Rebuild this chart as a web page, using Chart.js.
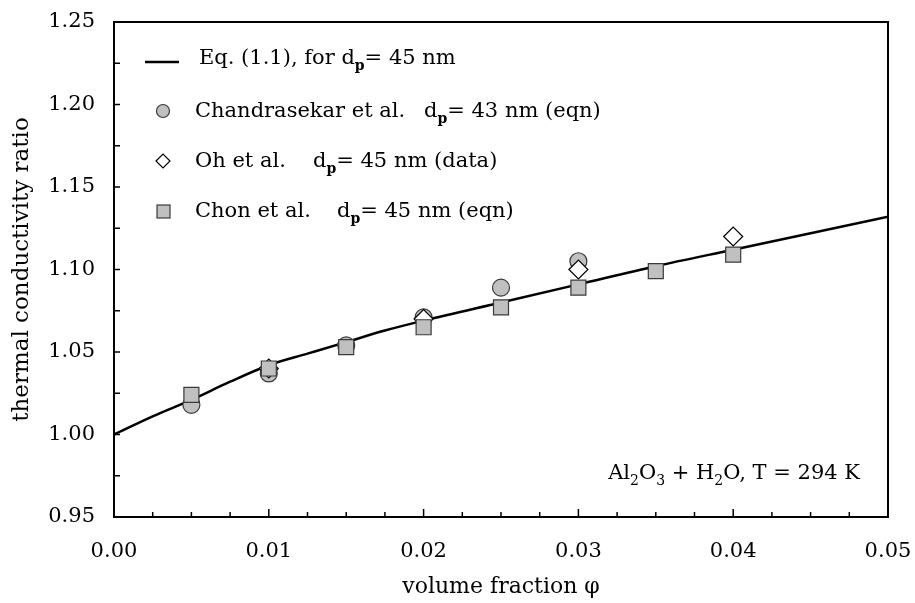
<!DOCTYPE html>
<html><head><meta charset="utf-8">
<script src="https://cdn.jsdelivr.net/npm/chart.js@4"></script>
<style>html,body{margin:0;padding:0;background:#fff}#wrap{width:915px;height:603px}</style>
</head><body><div id="wrap"><canvas id="c" width="915" height="603"></canvas></div>
<script>
// Eq. (1.1) curve, d_p = 45 nm
const eqPhi   = [0, 0.0025, 0.005, 0.0075, 0.01, 0.0125, 0.015, 0.0175, 0.02, 0.025, 0.03, 0.035, 0.04, 0.045, 0.05];
const eqRatio = [1.000, 1.011, 1.021, 1.032, 1.042, 1.049, 1.056, 1.063, 1.069, 1.080, 1.091, 1.102, 1.112, 1.122, 1.132];
// Chandrasekar et al. d_p = 43 nm (eqn)
const chandraPhi   = [0.005, 0.01, 0.015, 0.02, 0.025, 0.03];
const chandraRatio = [1.018, 1.037, 1.054, 1.071, 1.089, 1.105];
// Oh et al. d_p = 45 nm (data)
const ohPhi   = [0.01, 0.02, 0.03, 0.04];
const ohRatio = [1.040, 1.070, 1.100, 1.120];
// Chon et al. d_p = 45 nm (eqn)
const chonPhi   = [0.005, 0.01, 0.015, 0.02, 0.025, 0.03, 0.035, 0.04];
const chonRatio = [1.024, 1.040, 1.053, 1.065, 1.077, 1.089, 1.099, 1.109];
// axes
const xMajorTicks = [0, 0.01, 0.02, 0.03, 0.04, 0.05];
const xMinorTicks = [0.0025, 0.005, 0.0075, 0.0125, 0.015, 0.0175, 0.0225, 0.025, 0.0275, 0.0325, 0.035, 0.0375, 0.0425, 0.045, 0.0475];
const yMajorTicks = [0.95, 1.00, 1.05, 1.10, 1.15, 1.20, 1.25];
const yMinorTicks = [0.975, 1.025, 1.075, 1.125, 1.175, 1.225];
const xTitle = 'volume fraction φ';
const yTitle = 'thermal conductivity ratio';

const FONT = '"DejaVu Serif", serif';
const GREY = '#c0c0c0';
const EDGE = '#3a3a3a';

function pts(xs, ys){ return xs.map((v,i)=>({x:v, y:ys[i]})); }

function drawRich(ctx, parts, x, y, size){
  let cx = x;
  parts.forEach(p=>{
    if (p.at !== undefined) cx = p.at;
    if (p.sub){
      ctx.font = (p.bold ? 'bold ' : '') + Math.round(size*0.68) + 'px ' + FONT;
      ctx.fillText(p.t, cx, y + size*0.28);
    } else {
      ctx.font = size + 'px ' + FONT;
      ctx.fillText(p.t, cx, y);
    }
    cx += ctx.measureText(p.t).width;
  });
  return cx;
}
function richWidth(ctx, parts, size){
  let w = 0;
  parts.forEach(p=>{
    ctx.font = (p.sub ? (p.bold ? 'bold ' : '') + Math.round(size*0.68) : size) + 'px ' + FONT;
    w += ctx.measureText(p.t).width;
  });
  return w;
}

const decor = {
  id: 'decor',
  afterDraw(chart){
    const {ctx, chartArea:a, scales:{x, y}} = chart;
    ctx.save();
    ctx.strokeStyle = '#000';
    ctx.lineWidth = 1.5;
    xMajorTicks.forEach(v=>{
      const px = x.getPixelForValue(v);
      ctx.beginPath(); ctx.moveTo(px, a.bottom); ctx.lineTo(px, a.bottom - 8); ctx.stroke();
    });
    xMinorTicks.forEach(v=>{
      const px = x.getPixelForValue(v);
      ctx.beginPath(); ctx.moveTo(px, a.bottom); ctx.lineTo(px, a.bottom - 5); ctx.stroke();
    });
    yMajorTicks.concat(yMinorTicks).forEach(v=>{
      const py = y.getPixelForValue(v);
      ctx.beginPath(); ctx.moveTo(a.left, py); ctx.lineTo(a.left + 6, py); ctx.stroke();
    });
    ctx.lineWidth = 2;
    ctx.strokeRect(a.left, a.top, a.right - a.left, a.bottom - a.top);

    // legend
    ctx.fillStyle = '#000';
    ctx.textBaseline = 'alphabetic';
    ctx.textAlign = 'left';
    const fs = 21;
    ctx.lineWidth = 2.5;
    ctx.beginPath(); ctx.moveTo(145, 62); ctx.lineTo(179, 62); ctx.stroke();
    drawRich(ctx, [{t:'Eq. (1.1), for d'},{t:'p',sub:true,bold:true},{t:'= 45 nm'}], 199, 64, fs);

    ctx.lineWidth = 1.2; ctx.strokeStyle = EDGE; ctx.fillStyle = GREY;
    ctx.beginPath(); ctx.arc(163, 111, 6.5, 0, Math.PI*2); ctx.fill(); ctx.stroke();
    ctx.fillStyle = '#000';
    drawRich(ctx, [{t:'Chandrasekar et al.'},{t:'d',at:424},{t:'p',sub:true,bold:true},{t:'= 43 nm (eqn)'}], 195, 117, fs);

    ctx.strokeStyle = '#000'; ctx.fillStyle = '#fff';
    ctx.beginPath(); ctx.moveTo(156, 161); ctx.lineTo(163, 154); ctx.lineTo(170, 161); ctx.lineTo(163, 168); ctx.closePath(); ctx.fill(); ctx.stroke();
    ctx.fillStyle = '#000';
    drawRich(ctx, [{t:'Oh et al.'},{t:'d',at:313},{t:'p',sub:true,bold:true},{t:'= 45 nm (data)'}], 195, 167, fs);

    ctx.strokeStyle = EDGE; ctx.fillStyle = GREY;
    ctx.fillRect(157, 205, 13, 13); ctx.strokeRect(157, 205, 13, 13);
    ctx.fillStyle = '#000';
    drawRich(ctx, [{t:'Chon et al.'},{t:'d',at:337},{t:'p',sub:true,bold:true},{t:'= 45 nm (eqn)'}], 195, 217, fs);

    // annotation
    const ann = [{t:'Al'},{t:'2',sub:true},{t:'O'},{t:'3',sub:true},{t:' + H'},{t:'2',sub:true},{t:'O, T = 294 K'}];
    const w = richWidth(ctx, ann, fs);
    drawRich(ctx, ann, 860 - w, 479, fs);
    ctx.restore();
  }
};

new Chart(document.getElementById('c'), {
  type: 'scatter',
  data: {
    datasets: [
      { label: 'Chon et al.', data: pts(chonPhi, chonRatio), pointStyle: 'rect', pointRadius: 10.6,
        backgroundColor: GREY, borderColor: EDGE, borderWidth: 1.2, order: 1 },
      { label: 'Oh et al.', data: pts(ohPhi, ohRatio), pointStyle: 'rectRot', pointRadius: 9.5,
        backgroundColor: '#fff', borderColor: '#000', borderWidth: 1.2, order: 2 },
      { label: 'Chandrasekar et al.', data: pts(chandraPhi, chandraRatio), pointStyle: 'circle', pointRadius: 8.5,
        backgroundColor: GREY, borderColor: EDGE, borderWidth: 1.2, order: 3 },
      { label: 'Eq. (1.1)', data: pts(eqPhi, eqRatio), showLine: true, pointRadius: 0, borderColor: '#000',
        borderWidth: 2.5, cubicInterpolationMode: 'monotone', fill: false, order: 4 }
    ]
  },
  options: {
    responsive: false, animation: false, devicePixelRatio: 1,
    layout: { padding: { left: 0, top: 22, right: 27, bottom: 0 } },
    plugins: { legend: { display: false }, tooltip: { enabled: false } },
    scales: {
      x: {
        type: 'linear', min: 0, max: 0.05,
        afterFit: s => { s.height = 86; s.paddingLeft = 0; s.paddingRight = 0; },
        afterBuildTicks: s => { s.ticks = xMajorTicks.map(v=>({value:v})); },
        grid: { display: false, drawTicks: false }, border: { display: false },
        ticks: { padding: 22, color: '#000', font: { family: FONT, size: 21 }, callback: v => Number(v).toFixed(2) },
        title: { display: true, text: xTitle, color: '#000', font: { family: FONT, size: 22 }, padding: { top: 0, bottom: 3 } }
      },
      y: {
        type: 'linear', min: 0.95, max: 1.25,
        afterFit: s => { s.width = 114; s.paddingTop = 0; s.paddingBottom = 0; },
        afterBuildTicks: s => { s.ticks = yMajorTicks.map(v=>({value:v})); },
        grid: { display: false, drawTicks: false }, border: { display: false },
        ticks: { padding: 19, color: '#000', font: { family: FONT, size: 21 }, callback: v => Number(v).toFixed(2) },
        title: { display: true, text: yTitle, color: '#000', font: { family: FONT, size: 23 }, padding: { top: 8, bottom: 0 } }
      }
    }
  },
  plugins: [decor]
});
</script></body></html>
